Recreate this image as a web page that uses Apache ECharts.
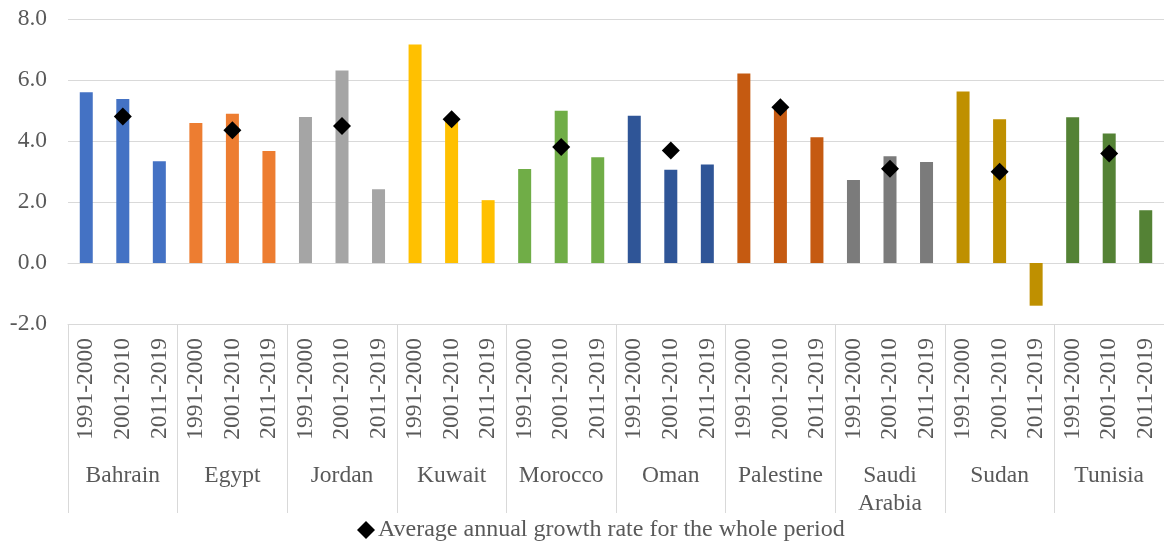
<!DOCTYPE html>
<html>
<head>
<meta charset="utf-8">
<script src="https://cdn.jsdelivr.net/npm/echarts@6/dist/echarts.min.js"></script>
<style>
  html, body { margin: 0; padding: 0; background: #ffffff; }
  #chart { width: 1164px; height: 543px; }
</style>
</head>
<body>
<div id="chart"></div>
<script>
// Countries (outer category level) and decades (inner category level)
const countries = ['Bahrain', 'Egypt', 'Jordan', 'Kuwait', 'Morocco', 'Oman', 'Palestine', 'Saudi\nArabia', 'Sudan', 'Tunisia'];
const periods = ['1991-2000', '2001-2010', '2011-2019'];

// Average annual growth rate per decade (%)
const growth1991_2000 = [5.60, 4.59, 4.79, 7.16, 3.08, 4.83, 6.21, 2.72, 5.62, 4.78];
const growth2001_2010 = [5.38, 4.89, 6.31, 4.67, 4.99, 3.06, 5.03, 3.50, 4.71, 4.25];
const growth2011_2019 = [3.34, 3.67, 2.42, 2.06, 3.47, 3.23, 4.12, 3.31, -1.40, 1.73];

// Average annual growth rate over 1991-2019
const growthWholePeriod = [4.80, 4.35, 4.49, 4.71, 3.80, 3.69, 5.11, 3.09, 2.99, 3.59];

// Value axis ticks
const yTicks = [-2, 0, 2, 4, 6, 8];

const countryColors = ['#4472C4', '#ED7D31', '#A5A5A5', '#FFC000', '#70AD47',
                       '#2F5597', '#C55A11', '#7B7B7B', '#BF9000', '#548235'];

const FONT = '"Liberation Serif", "Times New Roman", serif';
const TEXT = '#595959';
const LINE = '#D9D9D9';

// Flatten into one category per country/decade pair
const inner = [];
const barData = [];
const avgData = [];
const byPeriod = [growth1991_2000, growth2001_2010, growth2011_2019];
countries.forEach((c, i) => {
  periods.forEach((p, j) => {
    inner.push(p);
    barData.push({ value: byPeriod[j][i], itemStyle: { color: countryColors[i] } });
    avgData.push(j === 1 ? growthWholePeriod[i] : null);
  });
});

const chart = echarts.init(document.getElementById('chart'));
chart.setOption({
  animation: false,
  backgroundColor: '#ffffff',
  textStyle: { fontFamily: FONT },
  grid: { left: 68, right: -7, top: 19, bottom: 219, containLabel: false },
  legend: {
    data: ['Average annual growth rate for the whole period'],
    left: 352,
    top: 513,
    itemWidth: 18,
    itemHeight: 18,
    itemGap: 4,
    textStyle: { fontFamily: FONT, fontSize: 24, color: TEXT, padding: [0, 0, 0, -2] }
  },
  xAxis: [
    {
      type: 'category',
      data: inner,
      position: 'bottom',
      axisLine: { show: true, lineStyle: { color: LINE, width: 1 } },
      axisTick: { show: false },
      axisLabel: {
        interval: 0,
        rotate: 90,
        margin: 14,
        fontFamily: FONT,
        fontSize: 23.5,
        color: TEXT
      },
      splitLine: { show: false }
    },
    {
      type: 'category',
      data: countries,
      position: 'bottom',
      offset: 0,
      axisLine: { show: true, lineStyle: { color: LINE, width: 1 } },
      axisTick: { show: true, interval: 0, length: 189, lineStyle: { color: LINE, width: 1 } },
      axisLabel: {
        interval: 0,
        margin: 138,
        fontFamily: FONT,
        fontSize: 23.5,
        lineHeight: 28,
        color: TEXT
      },
      splitLine: { show: false }
    }
  ],
  yAxis: {
    type: 'value',
    min: yTicks[0],
    max: yTicks[yTicks.length - 1],
    interval: 2,
    axisLine: { show: false },
    axisTick: { show: false },
    axisLabel: {
      margin: 21,
      fontFamily: FONT,
      fontSize: 23.5,
      color: TEXT,
      formatter: v => v.toFixed(1)
    },
    splitLine: { show: true, lineStyle: { color: LINE, width: 1 } }
  },
  series: [
    {
      name: 'Growth by decade',
      type: 'bar',
      xAxisIndex: 0,
      barWidth: 13,
      data: barData,
      z: 2
    },
    {
      name: 'Average annual growth rate for the whole period',
      type: 'scatter',
      xAxisIndex: 0,
      symbol: 'diamond',
      symbolSize: [18, 18],
      itemStyle: { color: '#000000', opacity: 1 },
      data: avgData,
      z: 5
    }
  ]
});
</script>
</body>
</html>
